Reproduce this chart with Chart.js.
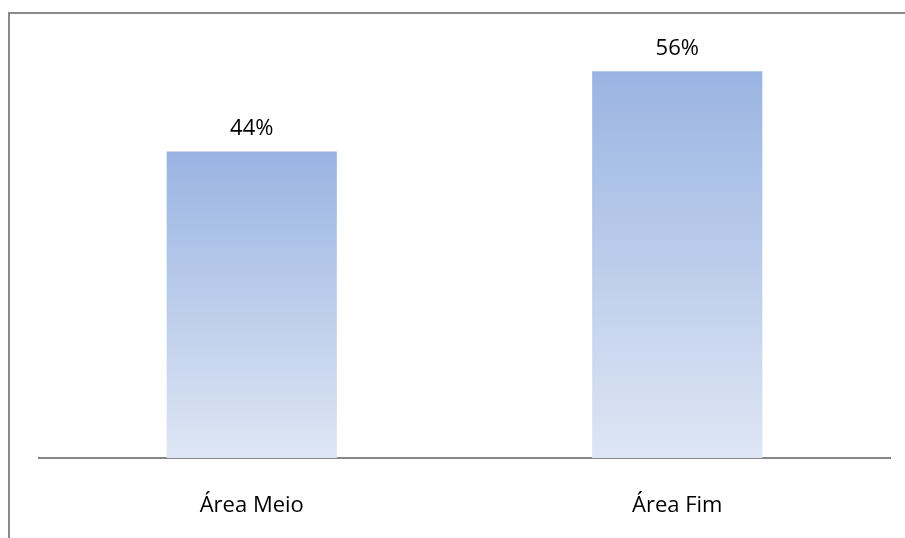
<!DOCTYPE html>
<html>
<head>
<meta charset="utf-8">
<script src="https://cdn.jsdelivr.net/npm/chart.js@4.4.0/dist/chart.umd.min.js"></script>
<style>
    html, body { margin: 0; padding: 0; background: #fff; }
    #wrap { position: relative; width: 905px; height: 538px; overflow: hidden; }
    #frame {
        position: absolute; left: 8px; top: 12px; width: 1000px; height: 1000px;
        border-top: 2px solid #8a8a8a; border-left: 2px solid #8a8a8a;
    }
    #chart { position: absolute; left: 0; top: 0; }
</style>
</head>
<body>
<div id="wrap">
    <div id="frame"></div>
    <canvas id="chart" width="905" height="538"></canvas>
</div>
<script>
// Dados do gráfico
const categorias = ['Área Meio', 'Área Fim'];
const percentuais = [0.44, 0.555];
const eixoMax = 0.6;

const FONT = '"Open Sans", Lato, sans-serif';

// Gradiente por barra (topo mais escuro, base clara)
function gradienteBarra(ctx) {
    const chart = ctx.chart;
    if (!chart.chartArea || ctx.parsed === undefined) return '#b7c9ea';
    const y = chart.scales.y;
    const topo = y.getPixelForValue(ctx.parsed.y);
    const base = y.getPixelForValue(0);
    const g = chart.ctx.createLinearGradient(0, topo, 0, base);
    g.addColorStop(0, '#9ab4e2');
    g.addColorStop(1, '#dee6f4');
    return g;
}

// Rótulos de valor acima das barras
const rotulos = {
    id: 'rotulos',
    afterDatasetsDraw(chart) {
        const c = chart.ctx;
        const meta = chart.getDatasetMeta(0);
        c.save();
        c.font = '22px ' + FONT;
        c.fillStyle = '#000';
        c.textAlign = 'center';
        c.textBaseline = 'middle';
        meta.data.forEach((bar, i) => {
            c.fillText(Math.round(percentuais[i] * 100) + '%', bar.x, bar.y - 23);
        });
        c.restore();
    }
};

new Chart(document.getElementById('chart'), {
    type: 'bar',
    data: {
        labels: categorias,
        datasets: [{
            data: percentuais,
            backgroundColor: gradienteBarra,
            borderWidth: 0,
            categoryPercentage: 0.4,
            barPercentage: 1
        }]
    },
    options: {
        responsive: false,
        animation: false,
        layout: { padding: { left: 39, right: 15, top: 40, bottom: 0 } },
        plugins: {
            legend: { display: false },
            tooltip: { enabled: false }
        },
        scales: {
            x: {
                grid: { display: false, drawTicks: false },
                border: { display: true, color: '#868686', width: 2 },
                ticks: { color: '#000', font: { size: 22, family: FONT }, padding: 35 },
                afterFit(scale) { scale.height = 80; }
            },
            y: {
                display: false,
                min: 0,
                max: eixoMax
            }
        }
    },
    plugins: [rotulos]
});
</script>
</body>
</html>
